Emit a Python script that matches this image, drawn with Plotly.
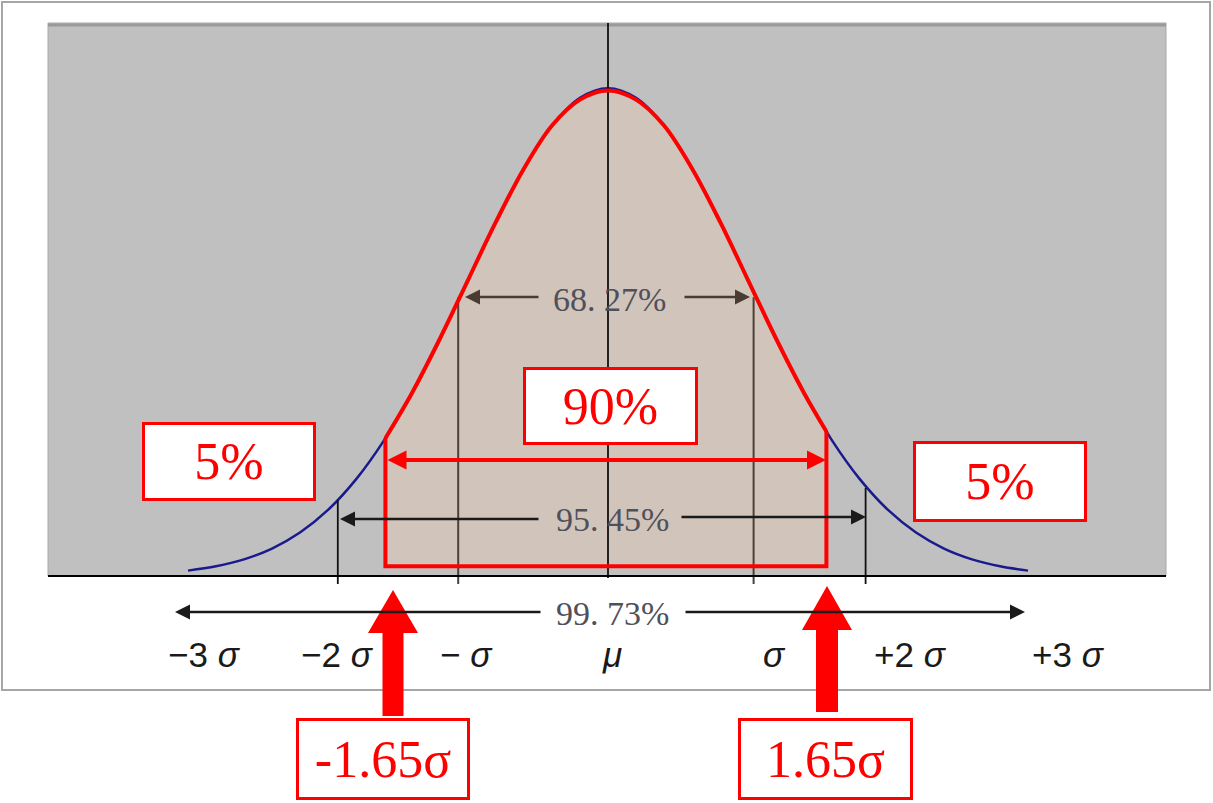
import plotly.graph_objects as go

# ---------------- data (x in sigma units, y = density) ----------------
curve_x = [-3.0, -2.8, -2.6, -2.4, -2.2, -2.0, -1.8, -1.6, -1.4, -1.2, -1.0, -0.8, -0.6, -0.4, -0.2, 0.0,
           0.2, 0.4, 0.6, 0.8, 1.0, 1.2, 1.4, 1.6, 1.8, 2.0, 2.2, 2.4, 2.6, 2.8, 3.0]
curve_y = [0.0044, 0.0079, 0.0136, 0.0224, 0.0355, 0.0540, 0.0790, 0.1109, 0.1497, 0.1942, 0.2420,
           0.2897, 0.3332, 0.3683, 0.3910, 0.3989, 0.3910, 0.3683, 0.3332, 0.2897, 0.2420, 0.1942,
           0.1497, 0.1109, 0.0790, 0.0540, 0.0355, 0.0224, 0.0136, 0.0079, 0.0044]

band_x = [-1.59, -1.4, -1.2, -1.0, -0.8, -0.6, -0.4, -0.2, 0.0, 0.2, 0.4, 0.6, 0.8, 1.0, 1.2, 1.4, 1.56]
band_y = [0.1127, 0.1497, 0.1942, 0.2420, 0.2897, 0.3332, 0.3683, 0.3895, 0.3970, 0.3895, 0.3683,
          0.3332, 0.2897, 0.2420, 0.1942, 0.1497, 0.1182]
band_floor = 0.008

sigma_ticks_x = [-1.07, 1.04]
sigma_ticks_top = [0.228, 0.228]
two_sigma_ticks_x = [-1.93, 1.84]
two_sigma_ticks_top = [0.062, 0.072]

tick_labels = ["−3 <i>σ</i>", "−2 <i>σ</i>", "− <i>σ</i>", "<i>μ</i>", "<i>σ</i>", "+2 <i>σ</i>", "+3 <i>σ</i>"]
tick_label_x = [-2.88, -1.93, -1.01, 0.03, 1.19, 2.16, 3.29]

range_labels = ["68. 27%", "95. 45%", "99. 73%"]
box_labels = ["90%", "5%", "5%", "-1.65σ", "1.65σ"]

# ---------------- pixel -> data helpers ----------------
X0, SX, Y0, SY = 608.0, 140.0, 576.0, 1223.0
def X(px): return (px - X0) / SX
def Y(py): return (Y0 - py) / SY

fig = go.Figure()

# tan fill of the 90% band
fig.add_trace(go.Scatter(x=[band_x[0], band_x[-1]], y=[band_floor, band_floor], mode="lines",
                         line=dict(width=0, color="rgba(0,0,0,0)"), hoverinfo="skip"))
fig.add_trace(go.Scatter(x=band_x, y=band_y, mode="lines", fill="tonexty", fillcolor="#d1c4ba",
                         line=dict(width=0, shape="spline"), hoverinfo="skip"))
# normal curve
fig.add_trace(go.Scatter(x=curve_x, y=curve_y, mode="lines",
                         line=dict(color="#1a1a8c", width=2.5, shape="spline")))
# guide lines
gx, gy = [], []
for xv, top in zip(sigma_ticks_x, sigma_ticks_top):
    gx += [xv, xv, None]; gy += [top, Y(584), None]
fig.add_trace(go.Scatter(x=gx, y=gy, mode="lines", line=dict(color="#4d4038", width=2)))
gx, gy = [0, 0, None], [Y(23), Y(578), None]
for xv, top in zip(two_sigma_ticks_x, two_sigma_ticks_top):
    gx += [xv, xv, None]; gy += [top, Y(584), None]
fig.add_trace(go.Scatter(x=gx, y=gy, mode="lines", line=dict(color="#111111", width=1.8)))
# red outline
fig.add_trace(go.Scatter(x=band_x, y=band_y, mode="lines", line=dict(color="#ff0000", width=4, shape="spline")))
fig.add_trace(go.Scatter(x=[band_x[0], band_x[0], band_x[-1], band_x[-1]],
                         y=[band_y[0], band_floor, band_floor, band_y[-1]], mode="lines",
                         line=dict(color="#ff0000", width=4)))

shapes = []
# outer frame
shapes.append(dict(type="rect", xref="x", yref="y", x0=X(2), x1=X(1210), y0=Y(690), y1=Y(2),
                   line=dict(color="#a6a6a6", width=2), fillcolor="white", layer="below"))
# gray plot area
shapes.append(dict(type="rect", xref="x", yref="y", x0=X(48), x1=X(1166), y0=Y(576), y1=Y(23),
                   line=dict(color="#a8a8a8", width=1), fillcolor="#c0c0c0", layer="below"))
shapes.append(dict(type="line", xref="x", yref="y", x0=X(48), x1=X(1166), y0=Y(25), y1=Y(25),
                   line=dict(color="#9a9a9a", width=3), layer="below"))
# baseline
shapes.append(dict(type="line", xref="x", yref="y", x0=X(48), x1=X(1166), y0=0, y1=0,
                   line=dict(color="#000000", width=2)))

def up_arrow(cx, tip, base, bottom, shaft_w, head_w):
    p = (f"M {X(cx - shaft_w/2)},{Y(bottom)} L {X(cx - shaft_w/2)},{Y(base)} "
         f"L {X(cx - head_w/2)},{Y(base)} L {X(cx)},{Y(tip)} L {X(cx + head_w/2)},{Y(base)} "
         f"L {X(cx + shaft_w/2)},{Y(base)} L {X(cx + shaft_w/2)},{Y(bottom)} Z")
    return dict(type="path", xref="x", yref="y", path=p, fillcolor="#ff0000", line=dict(width=0))

shapes.append(up_arrow(393, 590, 633, 716, 21, 50))
shapes.append(up_arrow(827, 586, 630, 712, 22, 50))

# ---------------- annotations ----------------
def arrow(head_px, tail_px, y_px, color, width, size):
    fig.add_annotation(x=X(head_px), y=Y(y_px), ax=X(tail_px), ay=Y(y_px), xref="x", yref="y",
                       axref="x", ayref="y", text="", showarrow=True, arrowhead=2,
                       arrowsize=size, arrowwidth=width, arrowcolor=color, standoff=0)

arrow(465, 540, 297, "#4a3c33", 2.5, 1.2)
arrow(750, 683, 297, "#4a3c33", 2.5, 1.2)
arrow(340, 540, 519, "#1a1a1a", 2.5, 1.2)
arrow(866, 680, 517, "#1a1a1a", 2.5, 1.2)
arrow(175, 542, 612, "#1a1a1a", 2.5, 1.2)
arrow(1025, 684, 612, "#1a1a1a", 2.5, 1.2)

# red 90% double arrow
fig.add_annotation(x=X(826), y=Y(460), ax=X(386), ay=Y(460), xref="x", yref="y", axref="x", ayref="y",
                   text="", showarrow=True, arrowhead=2, startarrowhead=2, arrowside="end+start",
                   arrowsize=0.95, startarrowsize=0.95, arrowwidth=4, arrowcolor="#ff0000", standoff=0, startstandoff=0)

pct_font = dict(family="Liberation Serif", size=34, color="#50505a")
for txt, cx, cy in zip(range_labels, [609, 612, 612], [299, 519, 613]):
    fig.add_annotation(x=X(cx), y=Y(cy), text=txt, showarrow=False, font=pct_font,
                       xanchor="center", yanchor="middle")

for txt, lx in zip(tick_labels, tick_label_x):
    fig.add_annotation(x=lx, y=Y(654), text=txt, showarrow=False,
                       font=dict(family="Liberation Sans Narrow, Liberation Sans", size=35, color="#1a1a1a"),
                       xanchor="center", yanchor="middle")

box_font = dict(family="Liberation Serif", size=52, color="#ff0000")
box_pos = [(610, 406, 175, 78), (229, 461, 174, 79), (1000, 481, 174, 81), (383, 759, 174, 82), (825, 759, 175, 82)]
for txt, (cx, cy, w, h) in zip(box_labels, box_pos):
    fig.add_annotation(x=X(cx), y=Y(cy), text=txt, showarrow=False, font=box_font,
                       bgcolor="white", bordercolor="#ff0000", borderwidth=3, borderpad=0,
                       width=w - 6, height=h - 6, xanchor="center", yanchor="middle")

fig.update_layout(
    width=1213, height=803, autosize=False,
    margin=dict(l=0, r=0, t=0, b=0, pad=0),
    paper_bgcolor="white", plot_bgcolor="white",
    showlegend=False, shapes=shapes,
    xaxis=dict(range=[X(0), X(1213)], visible=False, fixedrange=True),
    yaxis=dict(range=[Y(803), Y(0)], visible=False, fixedrange=True),
)

fig.write_html("out.html", config={"displayModeBar": False},
               post_script="document.body.style.margin='0';document.body.style.overflow='hidden';")
